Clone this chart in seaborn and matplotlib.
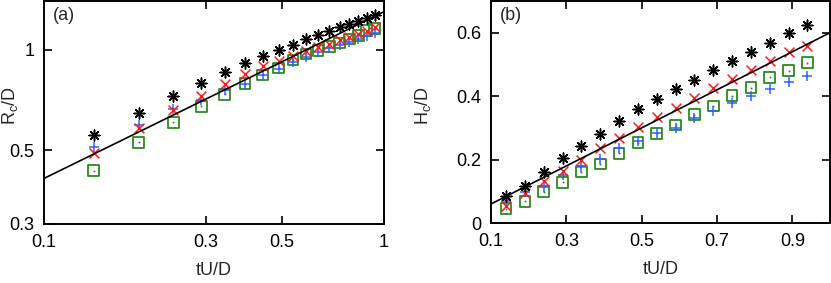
import matplotlib
matplotlib.use("Agg")
import matplotlib.pyplot as plt
import seaborn as sns
import pandas as pd
from matplotlib.ticker import FixedLocator, FixedFormatter, NullLocator

# ---------------- data ----------------
t = [0.14, 0.19, 0.24, 0.29, 0.34, 0.39, 0.44, 0.49, 0.54,
     0.59, 0.64, 0.69, 0.74, 0.79, 0.84, 0.89, 0.94]

# panel (a): Rc/D
Ra_star = [0.554, 0.646, 0.727, 0.793, 0.856, 0.912, 0.955, 0.998, 1.035,
           1.076, 1.106, 1.139, 1.166, 1.193, 1.220, 1.248, 1.269]
Ra_cross = [0.490, 0.582, 0.658, 0.724, 0.790, 0.846, 0.896, 0.923, 0.960,
            0.993, 1.016, 1.040, 1.069, 1.093, 1.114, 1.139, 1.166]
Ra_plus = [0.511, 0.594, 0.662, 0.705, 0.755, 0.790, 0.837, 0.876, 0.917,
           0.953, 0.982, 1.009, 1.033, 1.056, 1.076, 1.101, 1.121]
Ra_square = [0.434, 0.527, 0.605, 0.676, 0.734, 0.790, 0.840, 0.882, 0.932,
             0.971, 0.993, 1.021, 1.047, 1.076, 1.106, 1.139, 1.157]
fit_a_x = [0.1, 1.0]
fit_a_y = [0.411, 1.30]

# panel (b): Hc/D
Hb_star = [0.084, 0.118, 0.160, 0.204, 0.244, 0.280, 0.322, 0.358, 0.390,
           0.422, 0.450, 0.481, 0.511, 0.539, 0.569, 0.598, 0.625]
Hb_cross = [0.055, 0.094, 0.131, 0.164, 0.199, 0.236, 0.269, 0.302, 0.333,
            0.364, 0.395, 0.427, 0.454, 0.484, 0.511, 0.539, 0.557]
Hb_plus = [0.068, 0.099, 0.115, 0.150, 0.178, 0.201, 0.236, 0.257, 0.283,
           0.301, 0.330, 0.353, 0.379, 0.400, 0.424, 0.445, 0.465]
Hb_square = [0.045, 0.068, 0.099, 0.128, 0.162, 0.186, 0.220, 0.253, 0.283,
             0.309, 0.342, 0.369, 0.401, 0.427, 0.459, 0.480, 0.506]
fit_b_x = [0.1, 1.0]
fit_b_y = [0.06, 0.60]

xt_a = [0.1, 0.3, 0.5, 1]
xt_a_lab = ["0.1", "0.3", "0.5", "1"]
yt_a = [0.3, 0.5, 1]
yt_a_lab = ["0.3", "0.5", "1"]
xt_b = [0.1, 0.3, 0.5, 0.7, 0.9]
xt_b_lab = ["0.1", "0.3", "0.5", "0.7", "0.9"]
yt_b = [0, 0.2, 0.4, 0.6]
yt_b_lab = ["0", "0.2", "0.4", "0.6"]

# ---------------- style ----------------
sns.set_theme(style="ticks")
plt.rcParams["font.family"] = ["Liberation Sans", "DejaVu Sans"]
plt.rcParams["mathtext.default"] = "regular"

BLACK = "#000000"
RED = "#ff1a1a"
BLUE = "#3060ff"
GREEN = "#2a8a1e"
FS = 13

fig = plt.figure(figsize=(8.31, 2.83), dpi=100)
ax1 = fig.add_axes([44 / 831, 59 / 283, 340 / 831, 223 / 283])
ax2 = fig.add_axes([491 / 831, 60 / 283, 339 / 831, 222 / 283])


def draw(ax, ys_star, ys_cross, ys_plus, ys_sq, fx, fy):
    df = pd.DataFrame({"t": t, "star": ys_star, "cross": ys_cross,
                       "plus": ys_plus, "sq": ys_sq})
    sns.scatterplot(data=df, x="t", y="sq", ax=ax, marker="s", s=60,
                    facecolor="none", edgecolor=GREEN, linewidth=1.3, zorder=2)
    sns.scatterplot(data=df, x="t", y="sq", ax=ax, marker="o", s=2,
                    color=GREEN, linewidth=0, zorder=2)
    sns.scatterplot(data=df, x="t", y="plus", ax=ax, marker="+", s=60,
                    color=BLUE, linewidth=1.1, zorder=3)
    sns.scatterplot(data=df, x="t", y="cross", ax=ax, marker="x", s=50,
                    color=RED, linewidth=1.1, zorder=4)
    sns.scatterplot(data=df, x="t", y="star", ax=ax, marker=(8, 2, 0), s=60,
                    color=BLACK, linewidth=1.1, zorder=5)
    sns.lineplot(x=fx, y=fy, ax=ax, color="black", linewidth=1.2, zorder=6)


draw(ax1, Ra_star, Ra_cross, Ra_plus, Ra_square, fit_a_x, fit_a_y)
draw(ax2, Hb_star, Hb_cross, Hb_plus, Hb_square, fit_b_x, fit_b_y)

ax1.set_xscale("log")
ax1.set_yscale("log")
ax1.set_xlim(0.1, 1.0)
ax1.set_ylim(0.3, 1.4)
ax1.xaxis.set_major_locator(FixedLocator(xt_a))
ax1.xaxis.set_major_formatter(FixedFormatter(xt_a_lab))
ax1.yaxis.set_major_locator(FixedLocator(yt_a))
ax1.yaxis.set_major_formatter(FixedFormatter(yt_a_lab))
ax1.xaxis.set_minor_locator(NullLocator())
ax1.yaxis.set_minor_locator(NullLocator())

ax2.set_xlim(0.1, 1.0)
ax2.set_ylim(0, 0.7)
ax2.xaxis.set_major_locator(FixedLocator(xt_b))
ax2.xaxis.set_major_formatter(FixedFormatter(xt_b_lab))
ax2.yaxis.set_major_locator(FixedLocator(yt_b))
ax2.yaxis.set_major_formatter(FixedFormatter(yt_b_lab))

for ax, lab, ylab, ylx in [(ax1, "(a)", "R$_c$/D", -0.085),
                           (ax2, "(b)", "H$_c$/D", -0.186)]:
    for sp in ax.spines.values():
        sp.set_visible(True)
        sp.set_linewidth(1.4)
        sp.set_color("black")
    ax.tick_params(which="both", direction="in", length=6, width=1.2,
                   top=True, right=True, labelsize=FS, pad=7, colors="black")
    ax.set_xlabel("tU/D", fontsize=FS)
    ax.set_ylabel(ylab, fontsize=FS, va="baseline")
    ax.xaxis.set_label_coords(0.5, -0.17)
    ax.yaxis.set_label_coords(ylx, 0.53)
    ax.text(0.025, 0.975, lab, transform=ax.transAxes, fontsize=FS,
            ha="left", va="top")
    ax.grid(False)

fig.savefig("out.png", dpi=100)
